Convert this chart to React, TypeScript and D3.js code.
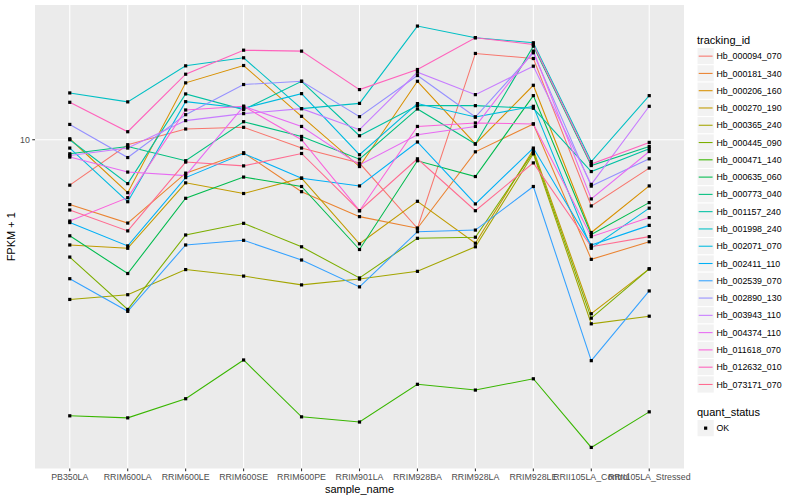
import { useEffect, useRef } from 'react';
import { select, scaleLog, scalePoint, line, min, max } from 'd3';

const samples = [
  'PB350LA',
  'RRIM600LA',
  'RRIM600LE',
  'RRIM600SE',
  'RRIM600PE',
  'RRIM901LA',
  'RRIM928BA',
  'RRIM928LA',
  'RRIM928LE',
  'RRII105LA_Control',
  'RRII105LA_Stressed',
];

const trackingIds = [
  'Hb_000094_070',
  'Hb_000181_340',
  'Hb_000206_160',
  'Hb_000270_190',
  'Hb_000365_240',
  'Hb_000445_090',
  'Hb_000471_140',
  'Hb_000635_060',
  'Hb_000773_040',
  'Hb_001157_240',
  'Hb_001998_240',
  'Hb_002071_070',
  'Hb_002411_110',
  'Hb_002539_070',
  'Hb_002890_130',
  'Hb_003943_110',
  'Hb_004374_110',
  'Hb_011618_070',
  'Hb_012632_010',
  'Hb_073171_070',
];

// ggplot hue palette, 20 levels
const palette = [
  '#F8766D', '#EA8331', '#D89000', '#C09B00', '#A3A500',
  '#7CAE00', '#39B600', '#00BB4E', '#00BF7D', '#00C1A3',
  '#00BFC4', '#00BAE0', '#00B0F6', '#35A2FF', '#9590FF',
  '#C77CFF', '#E76BF3', '#FA62DB', '#FF62BC', '#FF6C91',
];

// FPKM + 1, one array per tracking_id, in sample order
const hb000094 = [7.22, 9.65, 10.8, 10.93, 9.42, 8.46, 5.3, 18.57, 17.91, 6.22, 8.16];
const hb000181 = [6.28, 5.5, 7.87, 9.11, 6.89, 5.76, 5.3, 9.17, 11.2, 4.24, 4.81];
const hb000206 = [10.07, 6.84, 15.04, 17.03, 11.83, 8.25, 15.21, 9.7, 14.78, 5.14, 7.18];
const hb000270 = [4.7, 4.59, 7.34, 6.8, 7.59, 4.74, 6.43, 4.76, 9.31, 2.87, 3.96];
const hb000365 = [3.18, 3.29, 3.94, 3.76, 3.53, 3.68, 3.89, 4.64, 9.04, 2.67, 2.82];
const hb000445 = [4.31, 2.96, 5.05, 5.49, 4.64, 3.71, 4.93, 4.97, 9.15, 2.78, 3.96];
const hb000471 = [1.38, 1.36, 1.56, 2.06, 1.37, 1.32, 1.73, 1.66, 1.8, 1.1, 1.42];
const hb000635 = [5.02, 3.83, 6.57, 7.65, 7.15, 4.55, 8.6, 7.68, 13.72, 5.07, 6.37];
const hb000773 = [9.04, 9.53, 8.6, 11.38, 10.24, 8.7, 12.47, 9.7, 19.57, 8.31, 9.53];
const hb001157 = [10.0, 7.3, 13.89, 12.41, 15.21, 10.29, 12.77, 12.77, 12.53, 7.96, 9.37];
const hb001998 = [13.99, 13.12, 16.99, 18.0, 12.5, 12.98, 22.6, 20.79, 20.05, 8.55, 13.72];
const hb002071 = [9.42, 6.41, 13.14, 12.53, 13.92, 8.98, 12.96, 11.77, 12.71, 4.59, 6.12];
const hb002411 = [5.52, 4.67, 7.62, 9.06, 7.59, 7.18, 9.84, 6.31, 9.42, 4.7, 5.41];
const hb002539 = [3.69, 2.92, 4.7, 4.86, 4.22, 3.48, 5.17, 5.23, 7.15, 2.05, 3.38];
const hb002890 = [11.16, 8.8, 11.97, 14.86, 15.21, 11.8, 15.85, 11.77, 18.66, 7.17, 8.72];
const hb003943 = [8.93, 9.42, 11.47, 12.06, 12.5, 10.75, 16.23, 13.82, 16.95, 7.26, 12.71];
const hb004374 = [8.83, 7.93, 7.73, 12.71, 11.0, 8.35, 10.37, 11.0, 18.88, 6.54, 9.19];
const hb011618 = [5.58, 6.6, 12.38, 12.71, 10.0, 6.01, 11.0, 11.28, 11.2, 4.99, 5.72];
const hb012632 = [13.08, 10.59, 16.0, 19.01, 18.88, 14.33, 16.55, 20.79, 19.81, 8.4, 9.81];
const hb073171 = [6.04, 5.2, 8.52, 8.29, 9.06, 6.01, 8.72, 6.01, 8.47, 4.64, 4.99];

const seriesValues = [
  hb000094, hb000181, hb000206, hb000270, hb000365,
  hb000445, hb000471, hb000635, hb000773, hb001157,
  hb001998, hb002071, hb002411, hb002539, hb002890,
  hb003943, hb004374, hb011618, hb012632, hb073171,
];

const yTicks = [10];
const quantStatus = ['OK'];

const W = 800;
const H = 500;
const panel = { left: 35, right: 684, top: 5, bottom: 468.5 };
const FONT = '"Liberation Sans", Arial, Helvetica, sans-serif';

const App = () => {
  const svgRef = useRef<SVGSVGElement>(null);

  useEffect(() => {
    if (!svgRef.current) return;
    const svg = select(svgRef.current);
    svg.selectAll('*').remove();

    const all = seriesValues.flat();
    const lo = Math.log10(min(all) as number);
    const hi = Math.log10(max(all) as number);
    const pad = (hi - lo) * 0.05;

    const y = scaleLog()
      .domain([10 ** (lo - pad), 10 ** (hi + pad)])
      .range([panel.bottom, panel.top]);

    const x = scalePoint<string>()
      .domain(samples)
      .range([panel.left, panel.right])
      .padding(0.6);

    svg
      .append('rect')
      .attr('width', W)
      .attr('height', H)
      .attr('fill', '#ffffff');

    // panel + grid
    svg
      .append('rect')
      .attr('x', panel.left)
      .attr('y', panel.top)
      .attr('width', panel.right - panel.left)
      .attr('height', panel.bottom - panel.top)
      .attr('fill', '#EBEBEB');

    const grid = svg.append('g');
    grid
      .selectAll('line.h')
      .data(yTicks)
      .join('line')
      .attr('x1', panel.left)
      .attr('x2', panel.right)
      .attr('y1', (d) => y(d))
      .attr('y2', (d) => y(d))
      .attr('stroke', '#ffffff')
      .attr('stroke-width', 1.07);
    grid
      .selectAll('line.v')
      .data(samples)
      .join('line')
      .attr('x1', (d) => x(d)!)
      .attr('x2', (d) => x(d)!)
      .attr('y1', panel.top)
      .attr('y2', panel.bottom)
      .attr('stroke', '#ffffff')
      .attr('stroke-width', 1.07);

    // lines
    const lineGen = line<number>()
      .x((_, i) => x(samples[i])!)
      .y((d) => y(d));

    svg
      .append('g')
      .selectAll('path')
      .data(seriesValues)
      .join('path')
      .attr('d', (d) => lineGen(d))
      .attr('fill', 'none')
      .attr('stroke', (_, i) => palette[i])
      .attr('stroke-width', 1.07);

    // points
    const pts = seriesValues.flatMap((vals) =>
      vals.map((v, i) => ({ s: samples[i], v })),
    );
    svg
      .append('g')
      .selectAll('rect')
      .data(pts)
      .join('rect')
      .attr('x', (d) => x(d.s)! - 1.6)
      .attr('y', (d) => y(d.v) - 1.6)
      .attr('width', 3.2)
      .attr('height', 3.2)
      .attr('fill', '#000000');

    // axes
    const axisG = svg.append('g').style('font-family', FONT);
    axisG
      .selectAll('line.xt')
      .data(samples)
      .join('line')
      .attr('x1', (d) => x(d)!)
      .attr('x2', (d) => x(d)!)
      .attr('y1', panel.bottom)
      .attr('y2', panel.bottom + 2.75)
      .attr('stroke', '#333333')
      .attr('stroke-width', 1.07);
    axisG
      .selectAll('text.xt')
      .data(samples)
      .join('text')
      .attr('x', (d) => x(d)!)
      .attr('y', panel.bottom + 11.5)
      .attr('text-anchor', 'middle')
      .attr('font-size', 8.8)
      .attr('fill', '#4D4D4D')
      .text((d) => d);

    const yAxisG = svg.append('g').style('font-family', FONT);
    yAxisG
      .selectAll('line')
      .data(yTicks)
      .join('line')
      .attr('x1', panel.left - 2.75)
      .attr('x2', panel.left)
      .attr('y1', (d) => y(d))
      .attr('y2', (d) => y(d))
      .attr('stroke', '#333333')
      .attr('stroke-width', 1.07);
    yAxisG
      .selectAll('text')
      .data(yTicks)
      .join('text')
      .attr('x', panel.left - 5.2)
      .attr('y', (d) => y(d) + 3.1)
      .attr('text-anchor', 'end')
      .attr('font-size', 8.8)
      .attr('fill', '#4D4D4D')
      .text((d) => String(d));

    svg
      .append('text')
      .attr('x', (panel.left + panel.right) / 2)
      .attr('y', 493)
      .attr('text-anchor', 'middle')
      .attr('font-size', 11)
      .style('font-family', FONT)
      .text('sample_name');

    svg
      .append('text')
      .attr(
        'transform',
        `translate(15, ${(panel.top + panel.bottom) / 2}) rotate(-90)`,
      )
      .attr('text-anchor', 'middle')
      .attr('font-size', 11)
      .style('font-family', FONT)
      .text('FPKM + 1');

    // legend: tracking_id
    const lg = svg.append('g').style('font-family', FONT);
    lg.append('text')
      .attr('x', 697)
      .attr('y', 44)
      .attr('font-size', 11)
      .text('tracking_id');

    const keyH = 17.28;
    const keyTop = 47.5;
    const keys = lg
      .selectAll('g.key')
      .data(trackingIds)
      .join('g')
      .attr('transform', (_, i) => `translate(697, ${keyTop + i * keyH})`);
    keys
      .append('rect')
      .attr('width', keyH)
      .attr('height', keyH)
      .attr('fill', '#F2F2F2')
      .attr('stroke', '#ffffff')
      .attr('stroke-width', 1);
    keys
      .append('line')
      .attr('x1', 1.7)
      .attr('x2', keyH - 1.7)
      .attr('y1', keyH / 2)
      .attr('y2', keyH / 2)
      .attr('stroke', (_, i) => palette[i])
      .attr('stroke-width', 1.07);
    keys
      .append('text')
      .attr('x', keyH + 2.2)
      .attr('y', keyH / 2 + 3.1)
      .attr('font-size', 8.8)
      .text((d) => d);

    // legend: quant_status
    const qg = svg.append('g').style('font-family', FONT);
    qg.append('text')
      .attr('x', 697)
      .attr('y', 415.5)
      .attr('font-size', 11)
      .text('quant_status');
    const qk = qg
      .selectAll('g')
      .data(quantStatus)
      .join('g')
      .attr('transform', (_, i) => `translate(697, ${419.5 + i * keyH})`);
    qk.append('rect')
      .attr('width', keyH)
      .attr('height', keyH)
      .attr('fill', '#F2F2F2')
      .attr('stroke', '#ffffff');
    qk.append('rect')
      .attr('x', keyH / 2 - 1.6)
      .attr('y', keyH / 2 - 1.6)
      .attr('width', 3.2)
      .attr('height', 3.2)
      .attr('fill', '#000000');
    qk.append('text')
      .attr('x', keyH + 2.2)
      .attr('y', keyH / 2 + 3.1)
      .attr('font-size', 8.8)
      .text((d) => d);
  }, []);

  return (
    <svg
      ref={svgRef}
      width={W}
      height={H}
      style={{ position: 'absolute', left: 0, top: 0 }}
    />
  );
};

export default App;
